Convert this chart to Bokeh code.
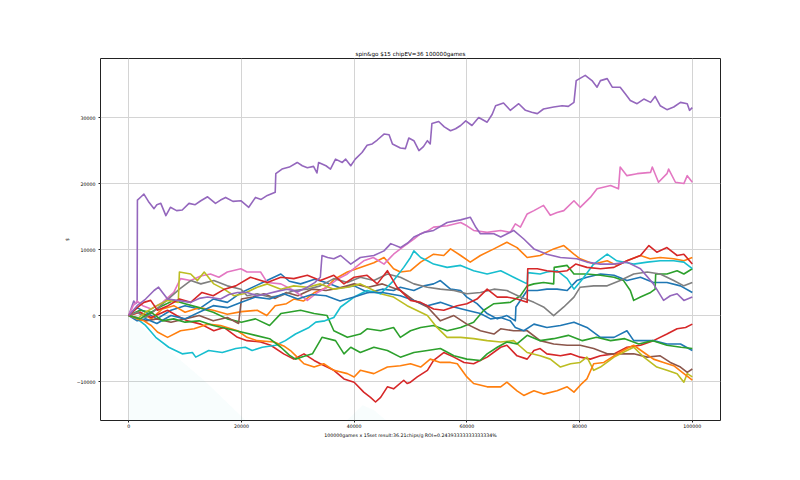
from bokeh.plotting import figure
from bokeh.models import Range1d, FixedTicker, BasicTickFormatter
from bokeh.embed import file_html
from bokeh.resources import INLINE

TITLE = "spin&go $15 chipEV=36 100000games"
XLABEL = "100000games x 15set result:36.21chips/g ROI=0.24393333333333334%"
YLABEL = "$"
x_ticks = [0, 20000, 40000, 60000, 80000, 100000]
y_ticks = [-10000, 0, 10000, 20000, 30000]

# faint shaded area (light cyan) in the lower-left
fill_x = [0, 5000, 13600, 21500, 38000, 41500, 43500, 46500, 46500, 0]
fill_y = [0, -3700, -10000, -16500, -16500, -13600, -14300, -16500, -17000, -17000]

# series 0 - blue
blue_a_x = [0, 1500, 3000, 5000, 7500, 10000, 12500, 15000, 17500, 20000, 22500, 25000, 27000, 28500, 30500, 33000, 35000, 37500, 40000, 42500, 45000, 47000, 48200, 50600, 52400, 54100, 55300, 57100, 58900, 60000, 61800, 63600, 65400, 67100, 68600, 68700, 70700, 72500, 74200, 76000, 77800, 79500, 81300, 83700, 86100, 88400, 90800, 93100, 95500, 97900, 100000]
blue_a_y = [0, 1200, 500, -500, 800, 1500, 1000, 2500, 2000, 3500, 4500, 5500, 6300, 5200, 4800, 5500, 5000, 4200, 4500, 3500, 4000, 3800, 4300, 3800, 4500, 4800, 5300, 4000, 3800, 2800, 1800, 300, -500, 0, -800, 1300, 3800, 3800, 4000, 4000, 3800, 5300, 5800, 6300, 6100, 5300, 5800, 5000, 5000, 4500, 3500]

# series 1 - orange
orange_a_x = [0, 2000, 4000, 6000, 8000, 10000, 12500, 15000, 17500, 20000, 22800, 24500, 26000, 28000, 29300, 31000, 33000, 35000, 36500, 38800, 41100, 43500, 45300, 47000, 48200, 50000, 51800, 54100, 55900, 57100, 58900, 60600, 62400, 64800, 67100, 68900, 70700, 73000, 75400, 77200, 79000, 80100, 82500, 84900, 86600, 88400, 90800, 92500, 94300, 96700, 98500, 100000]
orange_a_y = [0, 500, -500, 1000, 1500, 500, 1200, 800, 200, 600, 800, 0, 1500, 1800, 2500, 2200, 3500, 4200, 5500, 6600, 7300, 8000, 8800, 7100, 6600, 6800, 8100, 9300, 9100, 10100, 9100, 8100, 9100, 10100, 11100, 10300, 8800, 9100, 10100, 10600, 9300, 8600, 7800, 8300, 7600, 8300, 9100, 8600, 8800, 8600, 8300, 8800]

# series 2 - green
green_a_x = [0, 2000, 4000, 6000, 8000, 10000, 12500, 15000, 17500, 20000, 22500, 25000, 27000, 30500, 32900, 35200, 36400, 38800, 41100, 42300, 44700, 47000, 48200, 50000, 51800, 54100, 56500, 58900, 61200, 63000, 64800, 67700, 69500, 70700, 71900, 73600, 75400, 75500, 77800, 79000, 81300, 83700, 86100, 87800, 89000, 89600, 90800, 92600, 93400, 93500, 95500, 97300, 98500, 100000]
green_a_y = [0, 800, 500, 1500, 2300, 1800, 1200, 500, -500, -1000, -500, -1500, 300, 800, 300, 0, -2300, -3300, -2800, -2000, -2300, -1800, -3300, -2300, -1800, -1500, -2300, -1800, -1000, 800, 1800, 2000, 3000, 4500, 4800, 5000, 4800, 7300, 7600, 6300, 6300, 6100, 5800, 5300, 3800, 2300, 2800, 3500, 4000, 6300, 6300, 6800, 6300, 7100]

# series 3 - red
red_a_x = [0, 2000, 4000, 6900, 8500, 10400, 12800, 15100, 16900, 19300, 21000, 23400, 25200, 27500, 29300, 31100, 32900, 34000, 36400, 38200, 40000, 41700, 42900, 43800, 44700, 45900, 47000, 48800, 49400, 50000, 51200, 53000, 54100, 55900, 57700, 59500, 61200, 63600, 66000, 67100, 68900, 70700, 71900, 73000, 74200, 76600, 78400, 80100, 81900, 83700, 86100, 88400, 90800, 93100, 95500, 97300, 98800, 100000]
red_a_y = [0, 500, -300, 800, 0, -800, -1300, -2300, -1800, -3300, -3800, -4000, -4500, -5800, -6600, -5800, -6800, -7300, -8300, -9600, -10100, -11600, -12400, -13100, -12400, -10800, -11100, -9800, -10300, -10100, -9300, -8300, -6800, -5600, -6300, -7100, -7300, -6300, -4800, -4500, -6100, -6600, -5300, -5000, -5800, -6100, -5800, -6300, -6600, -6100, -5800, -4800, -4500, -3800, -2800, -2000, -1800, -1300]

# series 4 - purple (jackpot)
purple_a_x = [0, 500, 900, 1200, 1500, 1550, 2200, 2700, 3500, 4500, 5000, 5700, 6600, 7400, 8500, 9500, 10700, 11800, 12800, 14000, 15400, 16300, 17200, 18500, 19900, 21300, 22500, 23500, 24600, 26000, 26100, 27200, 28500, 29900, 30800, 31700, 32800, 33400, 33700, 35000, 35800, 36700, 37900, 38500, 39400, 40200, 41400, 42300, 43200, 44100, 45300, 46200, 46800, 48200, 49100, 49700, 50600, 51500, 52300, 53000, 53500, 53800, 55000, 56000, 57100, 58000, 58900, 59800, 60900, 62100, 63600, 64500, 65100, 66500, 67700, 69200, 70400, 71500, 72500, 73600, 75400, 76900, 78000, 79000, 79400, 81000, 82200, 83100, 83700, 84900, 85800, 87200, 88100, 89000, 90200, 91400, 92600, 93400, 94300, 95500, 96700, 97900, 99100, 99500, 100000]
purple_a_y = [0, 1200, 2200, 1800, 2000, 17500, 18000, 18400, 17300, 16200, 16800, 17000, 15150, 16400, 15900, 16000, 17000, 16800, 17400, 18000, 17000, 17500, 17900, 17300, 17400, 16400, 17900, 17600, 18200, 18700, 21500, 22200, 22500, 23200, 22700, 22400, 22600, 21600, 23200, 22700, 22200, 23700, 23200, 23700, 22700, 23700, 24700, 25800, 26000, 26600, 27500, 27400, 26000, 25400, 25300, 26900, 26500, 25000, 25600, 26500, 26000, 29100, 29400, 28600, 28000, 28300, 28800, 29500, 28800, 30000, 29300, 30500, 31800, 32200, 31100, 32100, 31100, 30800, 30600, 31300, 31600, 31800, 31700, 32300, 35600, 36400, 35600, 34600, 35600, 35900, 34600, 34600, 33600, 32600, 32100, 32800, 32300, 33200, 31800, 31200, 31600, 32300, 32100, 31100, 31500]

# series 5 - brown
brown_x = [0, 1500, 3000, 5000, 7500, 10000, 12500, 15000, 17500, 19500, 20000, 22000, 24000, 26000, 28000, 30000, 32500, 35000, 37500, 40000, 42500, 45000, 48200, 50600, 53000, 55300, 57700, 60000, 62400, 64800, 66000, 68300, 70700, 73000, 75400, 77800, 80100, 82500, 84900, 87200, 89600, 92000, 94300, 96100, 97900, 99100, 100000]
brown_y = [0, -300, -800, -500, -1000, -500, 0, -800, -300, -1200, 2500, 2800, 3300, 2600, 3500, 3000, 4000, 3800, 4200, 4800, 4300, 4800, 3800, 2300, 1300, -800, 0, -1300, -2300, -2800, -2000, -2300, -2300, -3800, -4300, -4500, -4500, -5000, -5800, -5800, -5800, -6300, -6100, -7100, -7800, -8600, -8100]

# series 6 - pink
pink_x = [0, 800, 1500, 2500, 4000, 6000, 8000, 9200, 11000, 12800, 14500, 16000, 17500, 19900, 21000, 23400, 24600, 27000, 29300, 31700, 33500, 35200, 37000, 38800, 40500, 41700, 43400, 45300, 47000, 48800, 50600, 51800, 53000, 54100, 56500, 58900, 60000, 61200, 63600, 66000, 67700, 68600, 69500, 70700, 71900, 73600, 74800, 76000, 77200, 79000, 80100, 81900, 83100, 85500, 86900, 87200, 88400, 90200, 92600, 92900, 94000, 95500, 95800, 97000, 98500, 99100, 100000]
pink_y = [0, 1500, 2200, 1500, 1000, 2000, 3500, 5600, 5300, 6000, 6300, 5800, 6600, 7100, 6600, 6600, 5000, 4800, 3800, 2300, 3500, 4300, 5500, 6300, 7500, 8300, 8800, 7800, 9300, 10500, 11600, 12400, 12800, 13400, 13600, 14100, 13600, 12900, 12600, 12900, 12600, 13900, 13400, 15400, 15900, 16700, 15200, 15600, 15900, 17400, 16400, 17900, 19200, 19700, 19200, 22500, 21200, 21500, 21700, 22500, 20200, 21500, 22200, 20200, 20000, 21200, 20200]

# series 7 - gray
gray_x = [0, 1500, 3000, 5000, 7000, 9000, 11000, 12800, 15100, 17500, 19900, 21000, 22800, 25000, 27000, 29300, 31700, 34000, 36400, 38800, 41100, 43500, 45900, 48200, 50600, 53000, 55300, 57700, 60000, 62400, 64800, 67100, 69500, 71900, 73600, 75400, 77200, 79000, 80100, 82500, 84900, 87200, 89600, 92000, 94300, 96700, 98500, 100000]
gray_y = [0, 500, -300, 1000, 2500, 4000, 5300, 4800, 5300, 4500, 4000, 3000, 3300, 2800, 3000, 3800, 4000, 4500, 5600, 5000, 5800, 5300, 6300, 5800, 4800, 4300, 4000, 3800, 3300, 3500, 4000, 3800, 2800, 2000, 1300, 0, 1300, 2800, 4300, 4500, 4500, 5300, 6300, 6600, 6300, 5300, 4500, 5000]

# series 8 - olive
olive_x = [0, 1500, 3000, 5000, 6900, 8800, 9000, 11000, 12200, 13400, 15100, 16900, 18700, 20400, 22800, 24600, 27000, 29300, 31700, 34000, 36400, 38800, 41100, 42300, 44700, 47000, 49400, 50600, 53000, 54700, 56500, 58900, 61200, 63600, 66000, 68300, 70700, 73000, 74800, 76600, 78400, 80100, 81300, 82500, 83700, 86100, 88400, 89600, 91400, 93700, 95500, 97300, 98500, 99100, 100000]
olive_y = [0, -500, 500, 1500, 2300, 2000, 6600, 6300, 5300, 6600, 4800, 4000, 3000, 3300, 4300, 4800, 4000, 4500, 4300, 4800, 4000, 4300, 4800, 4300, 3300, 2800, 1500, 1000, 0, -1800, -3300, -3300, -3500, -3800, -4000, -3800, -5600, -6100, -6600, -7800, -7300, -7100, -6300, -8300, -7800, -6300, -5300, -4800, -6300, -7800, -8300, -8800, -10100, -8800, -9300]

# series 9 - cyan
cyan_x = [0, 1500, 3000, 4800, 7100, 9500, 11300, 11900, 14200, 16600, 19000, 20700, 21900, 23700, 26100, 27800, 29600, 32000, 33200, 34800, 36400, 37600, 40000, 42300, 44700, 47000, 48800, 50000, 50600, 51800, 53000, 54100, 56500, 58900, 61200, 63600, 66000, 68300, 70700, 70800, 73000, 74200, 76000, 77800, 79000, 80500, 82500, 84900, 86600, 89600, 92000, 94300, 96700, 98500, 100000]
cyan_y = [0, -500, -1500, -3300, -4800, -5800, -5600, -6300, -5300, -5600, -5000, -4800, -5300, -4800, -4500, -3800, -2800, -1800, -1000, -800, -300, 1300, 2800, 3800, 3300, 5300, 7300, 8800, 9800, 8800, 8300, 7800, 7300, 7600, 6800, 6300, 6800, 5800, 4800, 6500, 6300, 6600, 6800, 5600, 4000, 5500, 7800, 9300, 8300, 7800, 8100, 8300, 8300, 8100, 7100]

# series 10 - blue
blue_b_x = [0, 1500, 3000, 5000, 7500, 10000, 12500, 15000, 17500, 20000, 22500, 25000, 27500, 30000, 32500, 35000, 37500, 40000, 42500, 45000, 48200, 50600, 53000, 55300, 57700, 60000, 62400, 64200, 66000, 67700, 68600, 70100, 71900, 74200, 76600, 79000, 81300, 83700, 86100, 88400, 89600, 93100, 95500, 97900, 100000]
blue_b_y = [0, -800, -500, -1200, 0, -500, 500, 1500, 1200, 2000, 2800, 2500, 3300, 2500, 3200, 3000, 2200, 2800, 3500, 3500, 3000, 2300, 1500, 2000, 1300, 800, 300, -500, -300, -800, -1800, -2300, -1300, -1800, -1500, -1000, -1800, -3300, -3300, -2300, -3800, -3800, -4300, -4300, -5300]

# series 11 - orange
orange_b_x = [0, 1500, 2700, 4000, 5100, 6900, 9200, 11600, 14000, 16300, 19300, 21000, 22800, 25800, 27500, 28700, 29900, 31100, 32900, 34600, 36400, 38800, 40000, 41100, 43500, 45900, 48200, 50000, 51800, 53500, 55300, 57100, 58300, 60000, 61200, 63600, 66000, 67100, 68900, 70100, 71900, 73600, 76000, 77800, 79000, 80400, 81300, 82500, 84300, 86100, 88400, 89600, 91400, 93100, 94900, 96700, 98500, 100000]
orange_b_y = [0, -500, -800, -1500, -2500, -3300, -2300, -2000, -1300, -1500, -2300, -3300, -3800, -4000, -4600, -5300, -6300, -7300, -7800, -7300, -8300, -8800, -9300, -8300, -8800, -7800, -7600, -7300, -7800, -6600, -7100, -7100, -7300, -9300, -10300, -10800, -10800, -10100, -11400, -12100, -11400, -11900, -11400, -10800, -11600, -10300, -9600, -7300, -7100, -6100, -5000, -4500, -5600, -6600, -7100, -7600, -8800, -9800]

# series 12 - green
green_b_x = [0, 2000, 4000, 6000, 8000, 10000, 12500, 15000, 17500, 20000, 22500, 25000, 27000, 28500, 29600, 31000, 32600, 34300, 36700, 38200, 39400, 41100, 43500, 45900, 48200, 50600, 53000, 55300, 57700, 60000, 62400, 63600, 65400, 67100, 68900, 70700, 73000, 75400, 78000, 80500, 83000, 85500, 88000, 90500, 93000, 95500, 98000, 100000]
green_b_y = [0, -500, 500, -800, -500, -1000, -800, -1500, -2000, -2500, -3000, -3500, -4800, -6000, -6600, -6200, -5800, -3300, -3800, -5800, -4800, -5600, -4800, -5300, -6300, -5600, -5300, -5000, -6100, -6600, -6800, -5800, -4800, -4000, -4300, -3000, -3800, -3500, -3000, -3800, -3300, -3800, -3500, -4300, -3800, -4500, -4800, -5000]

# series 13 - red
red_b_x = [0, 1500, 2700, 3900, 5100, 7000, 9000, 11000, 13000, 15000, 17000, 19000, 21600, 24600, 27000, 29300, 31700, 34000, 36400, 38200, 40000, 42300, 44100, 45900, 47600, 49400, 50000, 51800, 54100, 55900, 58300, 60000, 61800, 63600, 65400, 67100, 68900, 70700, 70800, 72500, 74200, 76000, 77800, 79300, 81300, 83700, 86100, 88400, 90800, 92300, 93700, 95500, 97300, 98500, 100000]
red_b_y = [0, 1200, 2000, 2300, 800, 1500, 2500, 2000, 3500, 3000, 4000, 4500, 5800, 5000, 5800, 5600, 6100, 5300, 6100, 4800, 5800, 6100, 4800, 6800, 4300, 2800, 2300, 2000, 1000, 800, 1500, 1800, 2500, 4000, 2800, 2800, 2500, 2000, 7100, 7100, 6800, 6600, 6800, 7800, 7300, 7100, 7300, 8300, 9100, 10600, 9600, 10300, 9100, 9300, 7800]

# series 14 - purple
purple_b_x = [0, 1500, 3000, 4500, 5300, 6000, 6900, 8600, 11000, 12500, 14000, 16300, 17800, 19300, 21000, 22800, 24600, 26500, 28100, 30000, 31700, 33000, 34000, 34300, 35300, 36400, 37600, 39400, 41100, 43500, 45300, 46500, 48200, 49500, 50600, 52400, 54100, 56500, 58900, 60600, 61500, 62400, 64800, 66000, 68300, 70100, 71900, 74200, 76600, 79500, 81300, 83700, 86000, 88400, 90800, 93100, 94900, 96100, 97300, 98500, 100000]
purple_b_y = [0, 1500, 2500, 3800, 4300, 3500, 2500, 2300, 2000, 2600, 2800, 2500, 3200, 3500, 3500, 3000, 3300, 3700, 4000, 3600, 4300, 5000, 5800, 9100, 8800, 8600, 9100, 7800, 8800, 9100, 9800, 10900, 10300, 11000, 11900, 12600, 12900, 14100, 14500, 14900, 13500, 12400, 12400, 11900, 12900, 11600, 10100, 9300, 8800, 8600, 8100, 7800, 7800, 8100, 7100, 4800, 2300, 3000, 3300, 2300, 2800]

series = [
    (blue_a_x, blue_a_y, "#1f77b4"),
    (orange_a_x, orange_a_y, "#ff7f0e"),
    (green_a_x, green_a_y, "#2ca02c"),
    (red_a_x, red_a_y, "#d62728"),
    (purple_a_x, purple_a_y, "#9467bd"),
    (brown_x, brown_y, "#8c564b"),
    (pink_x, pink_y, "#e377c2"),
    (gray_x, gray_y, "#7f7f7f"),
    (olive_x, olive_y, "#bcbd22"),
    (cyan_x, cyan_y, "#17becf"),
    (blue_b_x, blue_b_y, "#1f77b4"),
    (orange_b_x, orange_b_y, "#ff7f0e"),
    (green_b_x, green_b_y, "#2ca02c"),
    (red_b_x, red_b_y, "#d62728"),
    (purple_b_x, purple_b_y, "#9467bd"),
]

FONT = "DejaVu Sans"

p = figure(width=784, height=464, output_backend="svg", toolbar_location=None,
           x_range=Range1d(-5000, 105000), y_range=Range1d(-15900, 38950),
           min_border_left=100, min_border_right=64, min_border_top=58, min_border_bottom=44,
           title=TITLE, background_fill_color="white", border_fill_color="white")

p.title.align = "center"
p.title.text_font = FONT
p.title.text_font_size = "5.6px"
p.title.text_font_style = "normal"
p.title.text_color = "black"
p.title.standoff = 3

p.outline_line_color = "#222222"
p.outline_line_width = 1

p.patch(fill_x, fill_y, fill_color="#17becf", fill_alpha=0.03, line_alpha=0)

for xs, ys, c in series:
    p.line(xs, ys, line_color=c, line_width=1.6, line_join="round")

for ax in (p.xaxis[0], p.yaxis[0]):
    ax.axis_line_color = None
    ax.major_tick_line_color = "#222222"
    ax.major_tick_out = 2
    ax.major_tick_in = 0
    ax.minor_tick_line_color = None
    ax.major_label_text_font = FONT
    ax.major_label_text_font_size = "4.7px"
    ax.major_label_text_color = "black"
    ax.axis_label_text_font = FONT
    ax.axis_label_text_font_size = "4.7px"
    ax.axis_label_text_font_style = "normal"
    ax.axis_label_text_color = "black"
    ax.formatter = BasicTickFormatter(use_scientific=False)

p.xaxis[0].ticker = FixedTicker(ticks=x_ticks)
p.yaxis[0].ticker = FixedTicker(ticks=y_ticks)
p.yaxis[0].major_label_overrides = {t: (str(t).replace("-", "\u2212")) for t in y_ticks}
p.xaxis[0].axis_label = XLABEL
p.yaxis[0].axis_label = YLABEL
p.xaxis[0].major_label_standoff = 1
p.xaxis[0].axis_label_standoff = 2
p.yaxis[0].major_label_standoff = 3
p.yaxis[0].axis_label_standoff = 4

p.xgrid.grid_line_color = "#d4d4d4"
p.ygrid.grid_line_color = "#d4d4d4"
p.xgrid.grid_line_width = 1
p.ygrid.grid_line_width = 1

open("out.html", "w").write(file_html(p, INLINE))
